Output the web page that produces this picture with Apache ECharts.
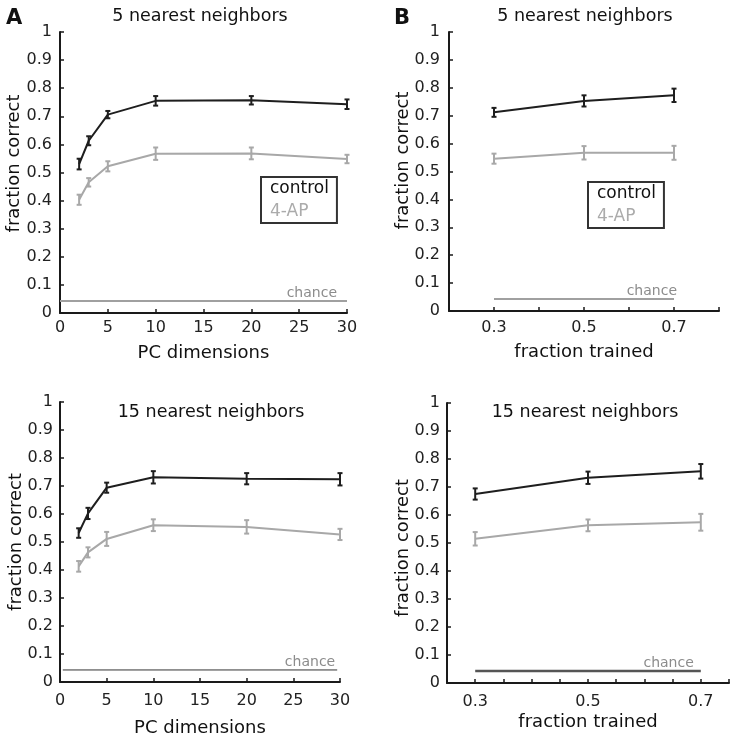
<!DOCTYPE html>
<html>
<head>
<meta charset="utf-8">
<script src="https://cdn.jsdelivr.net/npm/echarts@6/dist/echarts.min.js"></script>
<style>
html,body{margin:0;padding:0;background:#fff;}
#chart{width:732px;height:742px;}
</style>
</head>
<body>
<div id="chart"></div>
<script>
// ---- data ----
const pcDims = [2, 3, 5, 10, 20, 30];
const fracTrained = [0.3, 0.5, 0.7];
const yTicks = [0, 0.1, 0.2, 0.3, 0.4, 0.5, 0.6, 0.7, 0.8, 0.9, 1];
const fracTickLabels = [0.3, 0.5, 0.7];

// A, 5 nearest neighbors
const tlControl = [0.530, 0.613, 0.706, 0.755, 0.757, 0.743];
const tlControlErr = [0.019, 0.016, 0.013, 0.017, 0.015, 0.017];
const tl4ap = [0.403, 0.465, 0.522, 0.567, 0.568, 0.548];
const tl4apErr = [0.018, 0.015, 0.018, 0.022, 0.021, 0.015];
// B, 5 nearest neighbors
const trControl = [0.712, 0.753, 0.773];
const trControlErr = [0.016, 0.020, 0.024];
const tr4ap = [0.546, 0.567, 0.567];
const tr4apErr = [0.018, 0.024, 0.025];
// A, 15 nearest neighbors
const blControl = [0.532, 0.602, 0.694, 0.731, 0.726, 0.724];
const blControlErr = [0.017, 0.020, 0.018, 0.022, 0.020, 0.022];
const bl4ap = [0.413, 0.463, 0.511, 0.560, 0.554, 0.527];
const bl4apErr = [0.019, 0.018, 0.025, 0.021, 0.024, 0.020];
// B, 15 nearest neighbors
const brControl = [0.675, 0.733, 0.756];
const brControlErr = [0.020, 0.022, 0.026];
const br4ap = [0.515, 0.563, 0.574];
const br4apErr = [0.024, 0.021, 0.030];

const chanceLevel = 0.043;
const chanceX_TL = [0, 30];
const chanceX_TR = [0.3, 0.7];
const chanceX_BL = [0.3, 29.7];
const chanceX_BR = [0.3, 0.7];

// ---- styles ----
const FONT = 'DejaVu Sans';
const C_CTRL = '#1e1e1e';
const C_4AP = '#a8a8a8';
const AXIS_C = '#1a1a1a';

const chart = echarts.init(document.getElementById('chart'), null, {renderer: 'canvas'});

function pairs(xs, ys) { return xs.map((x, i) => [x, ys[i]]); }
function errData(xs, ys, es) { return xs.map((x, i) => [x, ys[i] - es[i], ys[i] + es[i]]); }

function errSeries(idx, xs, ys, es, color) {
  return {
    type: 'custom', xAxisIndex: idx, yAxisIndex: idx, z: 4, silent: true,
    data: errData(xs, ys, es),
    encode: {x: 0, y: [1, 2]},
    renderItem: function (params, api) {
      const x = api.value(0);
      const lo = api.coord([x, api.value(1)]);
      const hi = api.coord([x, api.value(2)]);
      const cw = 2.5;
      const st = {stroke: color, lineWidth: 2};
      return {
        type: 'group',
        children: [
          {type: 'line', shape: {x1: lo[0], y1: lo[1], x2: hi[0], y2: hi[1]}, style: st},
          {type: 'line', shape: {x1: lo[0] - cw, y1: lo[1], x2: lo[0] + cw, y2: lo[1]}, style: st},
          {type: 'line', shape: {x1: hi[0] - cw, y1: hi[1], x2: hi[0] + cw, y2: hi[1]}, style: st}
        ]
      };
    }
  };
}

function lineSeries(idx, name, xs, ys, color) {
  return {
    type: 'line', name: name, xAxisIndex: idx, yAxisIndex: idx, z: 3,
    data: pairs(xs, ys), symbol: 'none', silent: true,
    lineStyle: {color: color, width: 2}, itemStyle: {color: color}
  };
}

function chanceSeries(idx, xr, color, width, labelDx) {
  const ys = xr.map(() => chanceLevel);
  return {
    type: 'line', xAxisIndex: idx, yAxisIndex: idx, z: 2, silent: true,
    data: pairs(xr, ys), symbol: 'none', lineStyle: {color: color, width: width},
    markPoint: {
      silent: true, symbol: 'circle', symbolSize: 0,
      data: [{coord: [xr[1], chanceLevel]}],
      label: {
        show: true, position: 'top', align: 'right', formatter: 'chance',
        color: '#8c8c8c', fontFamily: FONT, fontSize: 14, offset: [labelDx, 0], distance: 1
      }
    }
  };
}

function yAxis(idx, labelMargin, nameGap, namePad) {
  return {
    gridIndex: idx, type: 'value', min: 0, max: 1, interval: 0.1,
    name: 'fraction correct', nameLocation: 'middle', nameGap: nameGap, nameMoveOverlap: false,
    nameTextStyle: {fontFamily: FONT, fontSize: 18, color: '#111', padding: namePad},
    axisLine: {show: true, lineStyle: {color: AXIS_C, width: 2}},
    axisTick: {show: true, inside: true, length: 4, lineStyle: {color: AXIS_C, width: 1.5}},
    axisLabel: {fontFamily: FONT, fontSize: 16, color: '#222', margin: labelMargin,
      formatter: function (v) { return String(Math.round(v * 10) / 10); }},
    splitLine: {show: false}
  };
}

function fracLabel(v) {
  for (const t of fracTickLabels) { if (Math.abs(v - t) < 1e-6) return t.toFixed(1); }
  return '';
}

function xAxis(idx, min, max, interval, name, nameGap, labelMargin, formatter) {
  const ax = {gridIndex: idx, type: 'value', min: min, max: max, interval: interval,
    name: name, nameLocation: 'middle', nameGap: nameGap, nameMoveOverlap: false,
    nameTextStyle: {fontFamily: FONT, fontSize: 18, color: '#111'},
    axisLine: {lineStyle: {color: AXIS_C, width: 2}},
    axisTick: {inside: true, length: 4, lineStyle: {color: AXIS_C, width: 1.5}},
    axisLabel: {fontFamily: FONT, fontSize: 16, color: '#222', margin: labelMargin,
      showMinLabel: true, showMaxLabel: true},
    splitLine: {show: false}};
  if (formatter) ax.axisLabel.formatter = formatter;
  return ax;
}

const titleStyle = {fontFamily: FONT, fontSize: 17.5, fontWeight: 'normal', color: '#111'};
const legendBase = {
  orient: 'vertical', itemWidth: 0, itemHeight: 0, itemGap: 2,
  borderColor: '#333', borderWidth: 2, padding: [1, 8, 1, 4], selectedMode: false,
  textStyle: {fontFamily: FONT, fontSize: 17, lineHeight: 21},
  data: [
    {name: 'control', icon: 'none', textStyle: {color: '#111'}},
    {name: '4-AP', icon: 'none', textStyle: {color: '#ababab'}}
  ]
};

const option = {
  backgroundColor: '#ffffff',
  animation: false,
  title: [
    {text: 'A', left: 1, top: 3, textStyle: {fontFamily: FONT, fontSize: 21, fontWeight: 'bold', color: '#111'}},
    {text: 'B', left: 389, top: 3, textStyle: {fontFamily: FONT, fontSize: 21, fontWeight: 'bold', color: '#111'}},
    {text: '5 nearest neighbors', left: 200, textAlign: 'center', top: 7, padding: 0, textStyle: titleStyle},
    {text: '5 nearest neighbors', left: 585, textAlign: 'center', top: 7, padding: 0, textStyle: titleStyle},
    {text: '15 nearest neighbors', left: 211, textAlign: 'center', top: 403, padding: 0, textStyle: titleStyle},
    {text: '15 nearest neighbors', left: 585, textAlign: 'center', top: 403, padding: 0, textStyle: titleStyle}
  ],
  legend: [
    Object.assign({left: 261, top: 177}, legendBase),
    Object.assign({left: 588, top: 182}, legendBase)
  ],
  grid: [
    {left: 60, top: 32, width: 287, height: 281},
    {left: 449, top: 32, width: 270, height: 279},
    {left: 60, top: 402, width: 280, height: 280},
    {left: 447, top: 403, width: 283, height: 280}
  ],
  xAxis: [
    xAxis(0, 0, 30, 5, 'PC dimensions', 31, 7, null),
    xAxis(1, 0.2, 0.8, 0.1, 'fraction trained', 32, 9, fracLabel),
    xAxis(2, 0, 30, 5, 'PC dimensions', 37, 11, null),
    xAxis(3, 0.25, 0.75, 0.05, 'fraction trained', 30, 11, fracLabel)
  ],
  yAxis: [
    yAxis(0, 8, 37, [0, 0, 0, 18]),
    yAxis(1, 9, 37, [0, 0, 0, 22]),
    yAxis(2, 7, 35, [0, 0, 0, 0]),
    yAxis(3, 7, 35, [0, 10, 0, 0])
  ],
  series: [
    chanceSeries(0, chanceX_TL, '#a0a0a0', 2, -10),
    lineSeries(0, 'control', pcDims, tlControl, C_CTRL),
    errSeries(0, pcDims, tlControl, tlControlErr, C_CTRL),
    lineSeries(0, '4-AP', pcDims, tl4ap, C_4AP),
    errSeries(0, pcDims, tl4ap, tl4apErr, C_4AP),

    chanceSeries(1, chanceX_TR, '#a0a0a0', 2, 3),
    lineSeries(1, 'control', fracTrained, trControl, C_CTRL),
    errSeries(1, fracTrained, trControl, trControlErr, C_CTRL),
    lineSeries(1, '4-AP', fracTrained, tr4ap, C_4AP),
    errSeries(1, fracTrained, tr4ap, tr4apErr, C_4AP),

    chanceSeries(2, chanceX_BL, '#333333', 1, -2),
    lineSeries(2, 'control', pcDims, blControl, C_CTRL),
    errSeries(2, pcDims, blControl, blControlErr, C_CTRL),
    lineSeries(2, '4-AP', pcDims, bl4ap, C_4AP),
    errSeries(2, pcDims, bl4ap, bl4apErr, C_4AP),

    chanceSeries(3, chanceX_BR, '#555555', 2.5, -7),
    lineSeries(3, 'control', fracTrained, brControl, C_CTRL),
    errSeries(3, fracTrained, brControl, brControlErr, C_CTRL),
    lineSeries(3, '4-AP', fracTrained, br4ap, C_4AP),
    errSeries(3, fracTrained, br4ap, br4apErr, C_4AP)
  ]
};
chart.setOption(option);
</script>
</body>
</html>
